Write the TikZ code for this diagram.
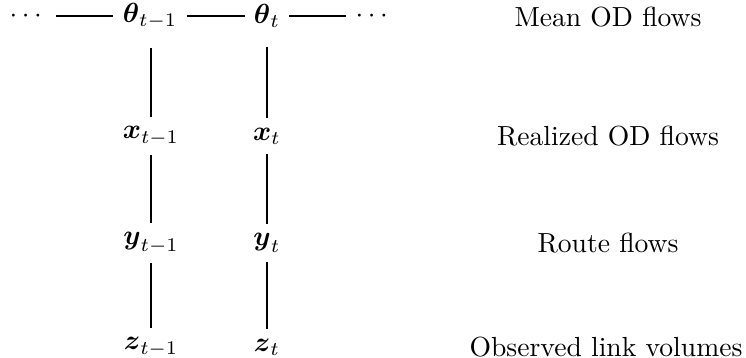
\documentclass[tikz,border=0pt]{standalone}
\usepackage{amsmath,amssymb}
\usepackage{tikz}
\usetikzlibrary{positioning}

\begin{document}
\begin{tikzpicture}[
  x=0.362pt,y=-0.362pt,
  v/.style={inner sep=3.2pt},
  lbl/.style={align=center},
  e/.style={thin},
  top/.style={thin,shorten <=3.5pt}
]
\useasboundingbox (0,0) rectangle (746,358);
% state chain
\node[v] (dl) at (28,16) {$\cdots$};
\node[v] (thA) at (150,16) {$\boldsymbol{\theta}_{t-1}$};
\node[v] (thB) at (267,16) {$\boldsymbol{\theta}_{t}$};
\node[v] (dr) at (374,16) {$\cdots$};
\node[v] (xA) at (151,136) {$\boldsymbol{x}_{t-1}$};
\node[v] (xB) at (267,136) {$\boldsymbol{x}_{t}$};
\node[v] (yA) at (151,243) {$\boldsymbol{y}_{t-1}$};
\node[v] (yB) at (267,243) {$\boldsymbol{y}_{t}$};
\node[v] (zA) at (151,347) {$\boldsymbol{z}_{t-1}$};
\node[v] (zB) at (267,347) {$\boldsymbol{z}_{t}$};
% row labels
\node[lbl] (mean) at (608,17) {Mean OD flows};
\node[lbl] (real) at (608,136) {Realized OD flows};
\node[lbl] (route) at (608,243) {Route flows};
\node[lbl] (obs) at (606,347) {Observed link volumes};

\draw[e] (dl)--(thA);
\draw[e] (thA)--(thB);
\draw[e] (thB)--(dr);
\draw[top] (thA.south -| xA)--(xA);
\draw[e] (xA)--(yA);
\draw[e] (yA)--(zA);
\draw[top] (thB)--(xB);
\draw[e] (xB)--(yB);
\draw[e] (yB)--(zB);
\end{tikzpicture}
\end{document}
